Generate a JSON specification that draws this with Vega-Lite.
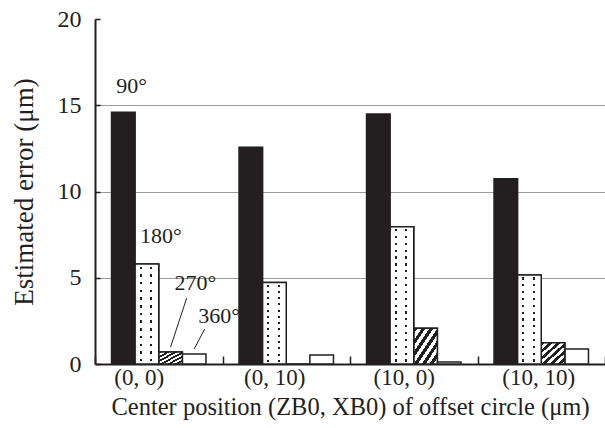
{
  "$schema": "https://vega.github.io/schema/vega-lite/v6.json",
  "width": 510,
  "height": 345,
  "autosize": {"type": "none"},
  "padding": {"left": 95, "top": 19, "right": 0, "bottom": 64},
  "background": "white",
  "config": {
    "view": {"stroke": null},
    "font": "Liberation Serif",
    "axis": {
      "labelFont": "Liberation Serif",
      "titleFont": "Liberation Serif",
      "labelColor": "#231f20",
      "titleColor": "#231f20",
      "titleFontWeight": "normal",
      "domainColor": "#231f20",
      "domainWidth": 2,
      "tickColor": "#231f20",
      "tickWidth": 1.5
    }
  },
  "datasets": {
    "bars": [
      {"group": "(0, 0)", "angle": "90°", "value": 14.6},
      {"group": "(0, 0)", "angle": "180°", "value": 5.8},
      {"group": "(0, 0)", "angle": "270°", "value": 0.7},
      {"group": "(0, 0)", "angle": "360°", "value": 0.58},
      {"group": "(0, 10)", "angle": "90°", "value": 12.56},
      {"group": "(0, 10)", "angle": "180°", "value": 4.73},
      {"group": "(0, 10)", "angle": "270°", "value": 0},
      {"group": "(0, 10)", "angle": "360°", "value": 0.52},
      {"group": "(10, 0)", "angle": "90°", "value": 14.5},
      {"group": "(10, 0)", "angle": "180°", "value": 7.96},
      {"group": "(10, 0)", "angle": "270°", "value": 2.07},
      {"group": "(10, 0)", "angle": "360°", "value": 0.12},
      {"group": "(10, 10)", "angle": "90°", "value": 10.74},
      {"group": "(10, 10)", "angle": "180°", "value": 5.16},
      {"group": "(10, 10)", "angle": "270°", "value": 1.23},
      {"group": "(10, 10)", "angle": "360°", "value": 0.87}
    ],
    "labelsA": [
      {"group": "(0, 0)", "angle": "90°", "label": "90°", "y": 15.7},
      {"group": "(0, 0)", "angle": "180°", "label": "180°", "y": 7.0}
    ],
    "labelsB": [
      {"group": "(0, 0)", "angle": "270°", "label": "270°", "y": 4.3},
      {"group": "(0, 0)", "angle": "360°", "label": "360°", "y": 2.4}
    ],
    "leader270": [{"group": "(0, 0)", "angle": "270°", "y1": 0.98, "y2": 3.83}],
    "leader360": [{"group": "(0, 0)", "angle": "360°", "y1": 0.87, "y2": 2.03}]
  },
  "encoding": {
    "x": {
      "field": "group",
      "type": "nominal",
      "sort": null,
      "scale": {"domain": ["(0, 0)", "(0, 10)", "(10, 0)", "(10, 10)"], "paddingInner": 0, "paddingOuter": 0},
      "title": "Center position (ZB0, XB0) of offset circle (μm)",
      "axis": {
        "tickBand": "extent",
        "tickSize": -8,
        "labelAngle": 0,
        "labelFontSize": 23,
        "labelPadding": 10,
        "labelOffset": {
          "condition": [
            {"test": "datum.value == '(0, 0)'", "value": -20},
            {"test": "datum.value == '(0, 10)'", "value": -12},
            {"test": "datum.value == '(10, 0)'", "value": -10}
          ],
          "value": -3
        },
        "titleFontSize": 24.5,
        "titlePadding": 6,
        "grid": false
      }
    },
    "xOffset": {
      "field": "angle",
      "type": "nominal",
      "sort": null,
      "scale": {"domain": ["90°", "180°", "270°", "360°"], "paddingInner": 0, "paddingOuter": 0.7}
    }
  },
  "layer": [
    {
      "data": {"name": "bars"},
      "mark": {"type": "bar", "stroke": "#231f20", "strokeWidth": 1.5},
      "encoding": {
        "y": {
          "field": "value",
          "type": "quantitative",
          "scale": {"domain": [0, 20]},
          "title": "Estimated error (μm)",
          "axis": {
            "values": [0, 5, 10, 15, 20],
            "tickSize": -5,
            "labelFontSize": 24,
            "labelPadding": 19,
            "titleFontSize": 27,
            "titlePadding": 19,
            "grid": true,
            "gridColor": "#9a9a9a",
            "gridWidth": 1,
            "gridOpacity": {"condition": {"test": "datum.value == 20 || datum.value == 0", "value": 0}, "value": 1}
          }
        },
        "fill": {
          "field": "angle",
          "type": "nominal",
          "scale": {"domain": ["90°", "180°", "270°", "360°"], "range": ["#231f20", "#ffffff", "#ffffff", "#ffffff"]},
          "legend": null
        }
      }
    },
    {
      "data": {"name": "bars"},
      "transform": [{"filter": "datum.angle == '270°' && datum.value > 0"}],
      "mark": {
        "type": "bar",
        "stroke": "#231f20",
        "strokeWidth": 1.5,
        "fill": {
          "gradient": "linear",
          "x1": 0, "y1": 0, "x2": 1, "y2": 1,
          "stops": [
            {"offset": 0, "color": "#231f20"}, {"offset": 0.08, "color": "#231f20"},
            {"offset": 0.08, "color": "#ffffff"}, {"offset": 0.1667, "color": "#ffffff"},
            {"offset": 0.1667, "color": "#231f20"}, {"offset": 0.25, "color": "#231f20"},
            {"offset": 0.25, "color": "#ffffff"}, {"offset": 0.3333, "color": "#ffffff"},
            {"offset": 0.3333, "color": "#231f20"}, {"offset": 0.4167, "color": "#231f20"},
            {"offset": 0.4167, "color": "#ffffff"}, {"offset": 0.5, "color": "#ffffff"},
            {"offset": 0.5, "color": "#231f20"}, {"offset": 0.5833, "color": "#231f20"},
            {"offset": 0.5833, "color": "#ffffff"}, {"offset": 0.6667, "color": "#ffffff"},
            {"offset": 0.6667, "color": "#231f20"}, {"offset": 0.75, "color": "#231f20"},
            {"offset": 0.75, "color": "#ffffff"}, {"offset": 0.8333, "color": "#ffffff"},
            {"offset": 0.8333, "color": "#231f20"}, {"offset": 0.9167, "color": "#231f20"},
            {"offset": 0.9167, "color": "#ffffff"}, {"offset": 1, "color": "#ffffff"}
          ]
        }
      },
      "encoding": {
        "y": {"field": "value", "type": "quantitative", "title": "Estimated error (μm)"}
      }
    },
    {
      "data": {"name": "bars"},
      "transform": [{"filter": "datum.angle == '180°'"}],
      "mark": {
        "type": "bar",
        "strokeWidth": 0,
        "fill": {
          "gradient": "linear",
          "x1": 0, "y1": 0, "x2": 1, "y2": 0,
          "stops": [
            {"offset": 0, "color": "#ffffff"}, {"offset": 0.2, "color": "#ffffff"},
            {"offset": 0.2, "color": "#231f20"}, {"offset": 0.29, "color": "#231f20"},
            {"offset": 0.29, "color": "#ffffff"}, {"offset": 0.63, "color": "#ffffff"},
            {"offset": 0.63, "color": "#231f20"}, {"offset": 0.72, "color": "#231f20"},
            {"offset": 0.72, "color": "#ffffff"}, {"offset": 1, "color": "#ffffff"}
          ]
        }
      },
      "encoding": {
        "y": {"field": "value", "type": "quantitative", "title": "Estimated error (μm)"}
      }
    },
    {
      "data": {"name": "bars"},
      "transform": [{"filter": "datum.angle == '180°' && datum.group != '(10, 0)'"}],
      "mark": {
        "type": "bar",
        "strokeWidth": 0,
        "fill": {
          "gradient": "linear",
          "x1": 0, "y1": 0, "x2": 0, "y2": 1,
          "stops": [
            {"offset": 0, "color": "#ffffff"},
            {"offset": 0.026, "color": "#ffffff"}, {"offset": 0.026, "color": "rgba(255,255,255,0)"}, {"offset": 0.051, "color": "rgba(255,255,255,0)"}, {"offset": 0.051, "color": "#ffffff"},
            {"offset": 0.1029, "color": "#ffffff"}, {"offset": 0.1029, "color": "rgba(255,255,255,0)"}, {"offset": 0.1279, "color": "rgba(255,255,255,0)"}, {"offset": 0.1279, "color": "#ffffff"},
            {"offset": 0.1798, "color": "#ffffff"}, {"offset": 0.1798, "color": "rgba(255,255,255,0)"}, {"offset": 0.2048, "color": "rgba(255,255,255,0)"}, {"offset": 0.2048, "color": "#ffffff"},
            {"offset": 0.2567, "color": "#ffffff"}, {"offset": 0.2567, "color": "rgba(255,255,255,0)"}, {"offset": 0.2817, "color": "rgba(255,255,255,0)"}, {"offset": 0.2817, "color": "#ffffff"},
            {"offset": 0.3337, "color": "#ffffff"}, {"offset": 0.3337, "color": "rgba(255,255,255,0)"}, {"offset": 0.3587, "color": "rgba(255,255,255,0)"}, {"offset": 0.3587, "color": "#ffffff"},
            {"offset": 0.4106, "color": "#ffffff"}, {"offset": 0.4106, "color": "rgba(255,255,255,0)"}, {"offset": 0.4356, "color": "rgba(255,255,255,0)"}, {"offset": 0.4356, "color": "#ffffff"},
            {"offset": 0.4875, "color": "#ffffff"}, {"offset": 0.4875, "color": "rgba(255,255,255,0)"}, {"offset": 0.5125, "color": "rgba(255,255,255,0)"}, {"offset": 0.5125, "color": "#ffffff"},
            {"offset": 0.5644, "color": "#ffffff"}, {"offset": 0.5644, "color": "rgba(255,255,255,0)"}, {"offset": 0.5894, "color": "rgba(255,255,255,0)"}, {"offset": 0.5894, "color": "#ffffff"},
            {"offset": 0.6413, "color": "#ffffff"}, {"offset": 0.6413, "color": "rgba(255,255,255,0)"}, {"offset": 0.6663, "color": "rgba(255,255,255,0)"}, {"offset": 0.6663, "color": "#ffffff"},
            {"offset": 0.7183, "color": "#ffffff"}, {"offset": 0.7183, "color": "rgba(255,255,255,0)"}, {"offset": 0.7433, "color": "rgba(255,255,255,0)"}, {"offset": 0.7433, "color": "#ffffff"},
            {"offset": 0.7952, "color": "#ffffff"}, {"offset": 0.7952, "color": "rgba(255,255,255,0)"}, {"offset": 0.8202, "color": "rgba(255,255,255,0)"}, {"offset": 0.8202, "color": "#ffffff"},
            {"offset": 0.8721, "color": "#ffffff"}, {"offset": 0.8721, "color": "rgba(255,255,255,0)"}, {"offset": 0.8971, "color": "rgba(255,255,255,0)"}, {"offset": 0.8971, "color": "#ffffff"},
            {"offset": 0.949, "color": "#ffffff"}, {"offset": 0.949, "color": "rgba(255,255,255,0)"}, {"offset": 0.974, "color": "rgba(255,255,255,0)"}, {"offset": 0.974, "color": "#ffffff"},
            {"offset": 1, "color": "#ffffff"}
          ]
        }
      },
      "encoding": {
        "y": {"field": "value", "type": "quantitative", "title": "Estimated error (μm)"}
      }
    },
    {
      "data": {"name": "bars"},
      "transform": [{"filter": "datum.angle == '180°' && datum.group == '(10, 0)'"}],
      "mark": {
        "type": "bar",
        "strokeWidth": 0,
        "fill": {
          "gradient": "linear",
          "x1": 0, "y1": 0, "x2": 0, "y2": 1,
          "stops": [
            {"offset": 0, "color": "#ffffff"},
            {"offset": 0.017, "color": "#ffffff"}, {"offset": 0.017, "color": "rgba(255,255,255,0)"}, {"offset": 0.033, "color": "rgba(255,255,255,0)"}, {"offset": 0.033, "color": "#ffffff"},
            {"offset": 0.067, "color": "#ffffff"}, {"offset": 0.067, "color": "rgba(255,255,255,0)"}, {"offset": 0.083, "color": "rgba(255,255,255,0)"}, {"offset": 0.083, "color": "#ffffff"},
            {"offset": 0.117, "color": "#ffffff"}, {"offset": 0.117, "color": "rgba(255,255,255,0)"}, {"offset": 0.133, "color": "rgba(255,255,255,0)"}, {"offset": 0.133, "color": "#ffffff"},
            {"offset": 0.167, "color": "#ffffff"}, {"offset": 0.167, "color": "rgba(255,255,255,0)"}, {"offset": 0.183, "color": "rgba(255,255,255,0)"}, {"offset": 0.183, "color": "#ffffff"},
            {"offset": 0.217, "color": "#ffffff"}, {"offset": 0.217, "color": "rgba(255,255,255,0)"}, {"offset": 0.233, "color": "rgba(255,255,255,0)"}, {"offset": 0.233, "color": "#ffffff"},
            {"offset": 0.267, "color": "#ffffff"}, {"offset": 0.267, "color": "rgba(255,255,255,0)"}, {"offset": 0.283, "color": "rgba(255,255,255,0)"}, {"offset": 0.283, "color": "#ffffff"},
            {"offset": 0.317, "color": "#ffffff"}, {"offset": 0.317, "color": "rgba(255,255,255,0)"}, {"offset": 0.333, "color": "rgba(255,255,255,0)"}, {"offset": 0.333, "color": "#ffffff"},
            {"offset": 0.367, "color": "#ffffff"}, {"offset": 0.367, "color": "rgba(255,255,255,0)"}, {"offset": 0.383, "color": "rgba(255,255,255,0)"}, {"offset": 0.383, "color": "#ffffff"},
            {"offset": 0.417, "color": "#ffffff"}, {"offset": 0.417, "color": "rgba(255,255,255,0)"}, {"offset": 0.433, "color": "rgba(255,255,255,0)"}, {"offset": 0.433, "color": "#ffffff"},
            {"offset": 0.467, "color": "#ffffff"}, {"offset": 0.467, "color": "rgba(255,255,255,0)"}, {"offset": 0.483, "color": "rgba(255,255,255,0)"}, {"offset": 0.483, "color": "#ffffff"},
            {"offset": 0.517, "color": "#ffffff"}, {"offset": 0.517, "color": "rgba(255,255,255,0)"}, {"offset": 0.533, "color": "rgba(255,255,255,0)"}, {"offset": 0.533, "color": "#ffffff"},
            {"offset": 0.567, "color": "#ffffff"}, {"offset": 0.567, "color": "rgba(255,255,255,0)"}, {"offset": 0.583, "color": "rgba(255,255,255,0)"}, {"offset": 0.583, "color": "#ffffff"},
            {"offset": 0.617, "color": "#ffffff"}, {"offset": 0.617, "color": "rgba(255,255,255,0)"}, {"offset": 0.633, "color": "rgba(255,255,255,0)"}, {"offset": 0.633, "color": "#ffffff"},
            {"offset": 0.667, "color": "#ffffff"}, {"offset": 0.667, "color": "rgba(255,255,255,0)"}, {"offset": 0.683, "color": "rgba(255,255,255,0)"}, {"offset": 0.683, "color": "#ffffff"},
            {"offset": 0.717, "color": "#ffffff"}, {"offset": 0.717, "color": "rgba(255,255,255,0)"}, {"offset": 0.733, "color": "rgba(255,255,255,0)"}, {"offset": 0.733, "color": "#ffffff"},
            {"offset": 0.767, "color": "#ffffff"}, {"offset": 0.767, "color": "rgba(255,255,255,0)"}, {"offset": 0.783, "color": "rgba(255,255,255,0)"}, {"offset": 0.783, "color": "#ffffff"},
            {"offset": 0.817, "color": "#ffffff"}, {"offset": 0.817, "color": "rgba(255,255,255,0)"}, {"offset": 0.833, "color": "rgba(255,255,255,0)"}, {"offset": 0.833, "color": "#ffffff"},
            {"offset": 0.867, "color": "#ffffff"}, {"offset": 0.867, "color": "rgba(255,255,255,0)"}, {"offset": 0.883, "color": "rgba(255,255,255,0)"}, {"offset": 0.883, "color": "#ffffff"},
            {"offset": 0.917, "color": "#ffffff"}, {"offset": 0.917, "color": "rgba(255,255,255,0)"}, {"offset": 0.933, "color": "rgba(255,255,255,0)"}, {"offset": 0.933, "color": "#ffffff"},
            {"offset": 0.967, "color": "#ffffff"}, {"offset": 0.967, "color": "rgba(255,255,255,0)"}, {"offset": 0.983, "color": "rgba(255,255,255,0)"}, {"offset": 0.983, "color": "#ffffff"},
            {"offset": 1, "color": "#ffffff"}
          ]
        }
      },
      "encoding": {
        "y": {"field": "value", "type": "quantitative", "title": "Estimated error (μm)"}
      }
    },
    {
      "data": {"name": "bars"},
      "transform": [{"filter": "datum.angle == '180°'"}],
      "mark": {"type": "bar", "fillOpacity": 0, "stroke": "#231f20", "strokeWidth": 1.5},
      "encoding": {
        "y": {"field": "value", "type": "quantitative", "title": "Estimated error (μm)"}
      }
    },
    {
      "data": {"name": "labelsA"},
      "mark": {"type": "text", "align": "left", "baseline": "alphabetic", "dx": -7, "fontSize": 22, "font": "Liberation Serif", "color": "#231f20"},
      "encoding": {
        "y": {"field": "y", "type": "quantitative", "title": "Estimated error (μm)"},
        "text": {"field": "label"}
      }
    },
    {
      "data": {"name": "labelsB"},
      "mark": {"type": "text", "align": "left", "baseline": "alphabetic", "dx": 4, "fontSize": 22, "font": "Liberation Serif", "color": "#231f20"},
      "encoding": {
        "y": {"field": "y", "type": "quantitative", "title": "Estimated error (μm)"},
        "text": {"field": "label"}
      }
    },
    {
      "data": {"name": "leader270"},
      "mark": {"type": "rule", "color": "#231f20", "strokeWidth": 1, "x2Offset": 28},
      "encoding": {
        "x2": {"field": "group"},
        "y": {"field": "y1", "type": "quantitative", "title": "Estimated error (μm)"},
        "y2": {"field": "y2"}
      }
    },
    {
      "data": {"name": "leader360"},
      "mark": {"type": "rule", "color": "#231f20", "strokeWidth": 1, "x2Offset": 46},
      "encoding": {
        "x2": {"field": "group"},
        "y": {"field": "y1", "type": "quantitative", "title": "Estimated error (μm)"},
        "y2": {"field": "y2"}
      }
    }
  ]
}
